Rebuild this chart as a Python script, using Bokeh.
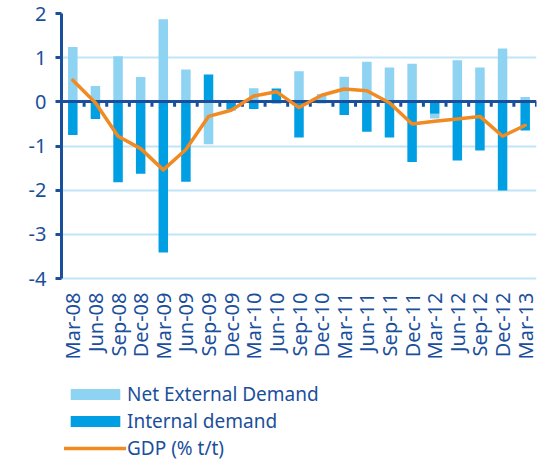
import math
from bokeh.plotting import figure
from bokeh.models import ColumnDataSource, Range1d, FixedTicker, Legend, LegendItem
from bokeh.core.properties import value
from bokeh.embed import file_html
from bokeh.resources import INLINE

quarters = ["Mar-08", "Jun-08", "Sep-08", "Dec-08", "Mar-09", "Jun-09", "Sep-09",
            "Dec-09", "Mar-10", "Jun-10", "Sep-10", "Dec-10", "Mar-11", "Jun-11",
            "Sep-11", "Dec-11", "Mar-12", "Jun-12", "Sep-12", "Dec-12", "Mar-13"]
net_external = [1.24, 0.36, 1.03, 0.56, 1.87, 0.73, -0.96, -0.03, 0.31, -0.05, 0.69,
                0.18, 0.57, 0.91, 0.78, 0.86, -0.11, 0.94, 0.78, 1.21, 0.11]
internal = [-0.75, -0.39, -1.82, -1.63, -3.41, -1.81, 0.62, -0.17, -0.16, 0.30, -0.81,
            -0.03, -0.30, -0.68, -0.81, -1.36, -0.27, -1.33, -1.10, -2.01, -0.65]
gdp = [0.49, -0.02, -0.78, -1.06, -1.54, -1.08, -0.33, -0.19, 0.13, 0.23, -0.13,
       0.15, 0.29, 0.25, -0.02, -0.50, -0.44, -0.39, -0.33, -0.78, -0.53]
y_ticks = [-4, -3, -2, -1, 0, 1, 2]
y_tick_labels = ["-4", "-3", "-2", "-1", "0", "1", "2"]

NAVY = "#1b4f9c"
LIGHT = "#8fd3f3"
DARK = "#009fe3"
ORANGE = "#f18a21"
GRID = "#bfe6f8"
FONT = "Noto Sans"

W, H = 542, 461
TOP, LEFT, RIGHT = 13, 61, 6
AXIS_BOTTOM_PX = 278          # screen y of the value axis minimum
y_lo, y_hi = min(y_ticks), max(y_ticks)
px_per_unit = (AXIS_BOTTOM_PX - TOP) / (y_hi - y_lo)
# frame extends down to the canvas bottom; the value axis keeps its own bounds
y_range_lo = y_hi - (H - TOP) / px_per_unit

n = len(quarters)
xs = list(range(n))
# stacked: internal first from zero, net external stacked on same-sign side
ext_base = [iv if iv * ev > 0 else 0.0 for iv, ev in zip(internal, net_external)]
ext_top = [b + ev for b, ev in zip(ext_base, net_external)]

src = ColumnDataSource(dict(x=xs, internal=internal, ext_base=ext_base,
                            ext_top=ext_top, gdp=gdp))

p = figure(width=W, height=H, output_backend="svg", toolbar_location=None,
           x_range=Range1d(-0.5, n - 0.5), y_range=Range1d(y_range_lo, y_hi),
           min_border_left=LEFT, min_border_right=RIGHT, min_border_top=TOP,
           min_border_bottom=0)
p.outline_line_color = None
p.background_fill_color = "white"
p.border_fill_color = "white"
p.xgrid.visible = False
p.xaxis.visible = False
p.ygrid.ticker = FixedTicker(ticks=y_ticks)
p.ygrid.grid_line_color = GRID
p.ygrid.grid_line_width = 2

# y axis
p.yaxis.ticker = FixedTicker(ticks=y_ticks)
p.yaxis.major_label_overrides = {t: s for t, s in zip(y_ticks, y_tick_labels)}
p.yaxis.bounds = (y_lo, y_hi)
p.yaxis.axis_line_color = NAVY
p.yaxis.axis_line_width = 3
p.yaxis.major_tick_line_color = NAVY
p.yaxis.major_tick_line_width = 3
p.yaxis.major_tick_out = 6
p.yaxis.major_tick_in = 0
p.yaxis.minor_tick_line_color = None
p.yaxis.major_label_standoff = 9
p.yaxis.major_label_text_font = FONT
p.yaxis.major_label_text_font_size = "20px"
p.yaxis.major_label_text_color = NAVY

bw = 0.42
r_ext = p.vbar(x="x", width=bw, bottom="ext_base", top="ext_top", source=src,
               fill_color=LIGHT, line_color=None)
r_int = p.vbar(x="x", width=bw, bottom=0, top="internal", source=src,
               fill_color=DARK, line_color=None)

# zero line with category-boundary ticks
p.hspan(y=[0], line_color=NAVY, line_width=3)
bounds = [i + 0.5 for i in xs]
tick_len = 5 / px_per_unit
p.segment(x0=bounds, y0=[0] * n, x1=bounds, y1=[-tick_len] * n,
          line_color=NAVY, line_width=3)

r_gdp = p.line(x="x", y="gdp", source=src, line_color=ORANGE, line_width=3.5,
               line_join="round", line_cap="round")

# category labels, rotated, under the value-axis minimum
label_y = y_lo - 14 / px_per_unit
p.text(x=xs, y=[label_y] * n, text=quarters, angle=math.pi / 2,
       text_align="right", text_baseline="middle",
       text_font=value(FONT), text_font_size="20px", text_color=NAVY)

legend = Legend(items=[LegendItem(label="Net External Demand", renderers=[r_ext]),
                       LegendItem(label="Internal demand", renderers=[r_int]),
                       LegendItem(label="GDP (% t/t)", renderers=[r_gdp])],
                location=(3, 0), orientation="vertical",
                glyph_width=62, glyph_height=14, label_standoff=1,
                label_height=20, spacing=1, padding=0, margin=0,
                label_text_font=FONT, label_text_font_size="19px",
                label_text_color=NAVY, border_line_color=None,
                background_fill_alpha=0)
p.add_layout(legend)

open("out.html", "w").write(file_html(p, INLINE))
